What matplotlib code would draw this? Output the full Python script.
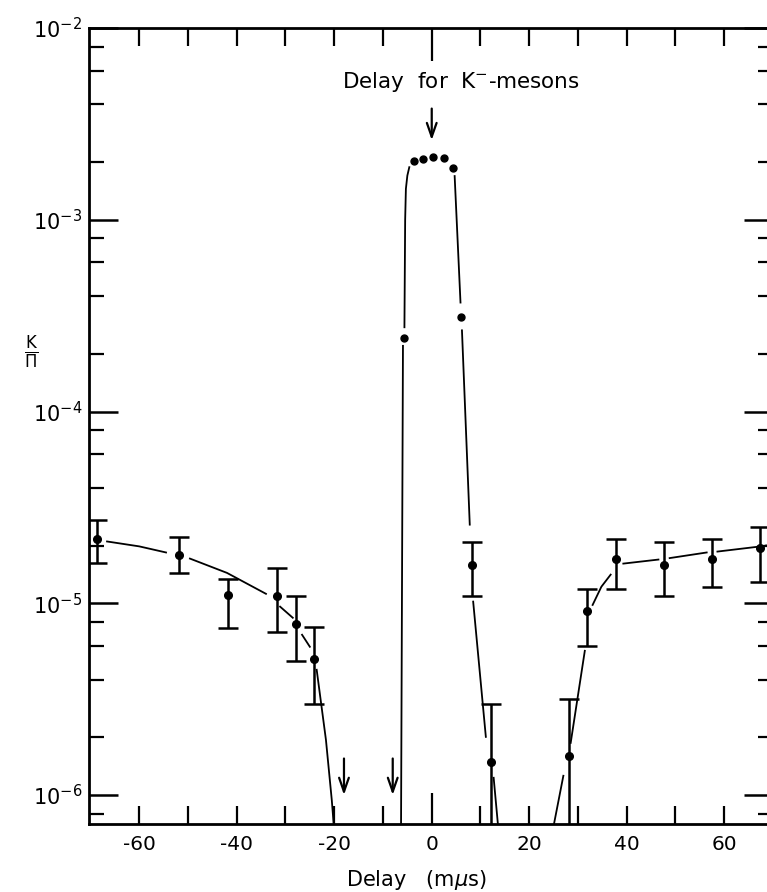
import numpy as np
import matplotlib
matplotlib.use("Agg")
import matplotlib.pyplot as plt
from matplotlib.ticker import LogLocator, FixedLocator, NullFormatter

nan = np.nan

# measured K/pi ratio with error bars
delay = [-68.6, -51.8, -41.8, -31.8, -27.9, -24.2, 8.2, 12.1, 28.1, 31.8, 37.7, 47.7, 57.4, 67.4]
ratio = [2.17e-5, 1.79e-5, 1.11e-5, 1.09e-5, 7.8e-6, 5.13e-6, 1.59e-5, 1.49e-6, 1.6e-6,
         9.1e-6, 1.71e-5, 1.59e-5, 1.71e-5, 1.93e-5]
err_hi = [2.73e-5, 2.22e-5, 1.34e-5, 1.53e-5, 1.09e-5, 7.5e-6, 2.09e-5, 3.0e-6, 3.17e-6,
          1.19e-5, 2.17e-5, 2.09e-5, 2.17e-5, 2.5e-5]
err_lo = [1.63e-5, 1.43e-5, 7.45e-6, 7.1e-6, 5.0e-6, 2.98e-6, 1.09e-5, 1e-7, 1e-7,
          6.0e-6, 1.19e-5, 1.09e-5, 1.22e-5, 1.29e-5]

# points in the K- peak (no error bars)
peak_delay = [-5.7, -3.7, -1.8, 0.2, 2.5, 4.3, 6.1]
peak_ratio = [2.43e-4, 2.02e-3, 2.07e-3, 2.12e-3, 2.09e-3, 1.86e-3, 3.10e-4]

# hand drawn curve, nan = pen lifted
fit_left_x = [-66.6, -60.0, -54.5, nan, -49.6, -42.0, -34.0, nan, -31.1, -28.5, nan,
              -26.6, -25.0, nan, -23.6, -21.7, -20.5, -20.0]
fit_left_y = [2.1e-5, 1.98e-5, 1.84e-5, nan, 1.71e-5, 1.44e-5, 1.12e-5, nan, 9.6e-6, 8.4e-6, nan,
              6.85e-6, 5.93e-6, nan, 4.5e-6, 1.94e-6, 9.4e-7, 6.5e-7]
fit_peak_x = [-6.3, -5.9, nan, -5.6, -5.45, -5.3, -5.0, -4.6, nan,
              4.7, 5.9, nan, 6.2, 7.8, nan, 8.5, 11.1, nan, 12.7, 13.7]
fit_peak_y = [6.5e-7, 2.2e-4, nan, 2.75e-4, 1.0e-3, 1.45e-3, 1.7e-3, 1.88e-3, nan,
              1.69e-3, 3.7e-4, nan, 2.65e-4, 2.57e-5, nan, 1.02e-5, 2.01e-6, nan, 1.23e-6, 6.5e-7]
fit_right_x = [24.8, 27.0, nan, 28.5, 31.4, nan, 33.0, 34.8, 36.7, nan, 39.3, 46.5, nan,
               48.8, 56.4, nan, 58.6, 66.8, nan, 68.5, 70.0]
fit_right_y = [6.5e-7, 1.26e-6, nan, 1.87e-6, 5.65e-6, nan, 9.8e-6, 1.22e-5, 1.41e-5, nan,
               1.61e-5, 1.69e-5, nan, 1.72e-5, 1.84e-5, nan, 1.86e-5, 1.97e-5, nan, 2.0e-5, 2.02e-5]

# arrows: (x, y_tail, y_head)
low_arrows_x = [-18.0, -8.0]
low_arrow_y = (1.55e-6, 1.0e-6)
k_arrow = (0.0, 3.8e-3, 2.6e-3)

x_ticks = list(range(-60, 70, 10))
x_ticklabels = ['-60', '', '-40', '', '-20', '', '0', '', '20', '', '40', '', '60']
y_ticks = [1e-6, 1e-5, 1e-4, 1e-3, 1e-2]
y_ticklabels = [r'$\mathregular{10^{-6}}$', r'$\mathregular{10^{-5}}$', r'$\mathregular{10^{-4}}$',
                r'$\mathregular{10^{-3}}$', r'$\mathregular{10^{-2}}$']

W, H = 767, 892
fig = plt.figure(figsize=(W / 100, H / 100), dpi=100)
ax = fig.add_axes([89 / W, (H - 824) / H, (773 - 89) / W, (824 - 28) / H])
ax.set_yscale('log')
ax.set_xlim(-70.3, 70)
ax.set_ylim(7.06e-7, 1e-2)

lw = 1.3
ax.plot(fit_left_x, fit_left_y, color='black', lw=lw)
ax.plot(fit_peak_x, fit_peak_y, color='black', lw=lw)
ax.plot(fit_right_x, fit_right_y, color='black', lw=lw)

yerr = [np.array(ratio) - np.array(err_lo), np.array(err_hi) - np.array(ratio)]
ax.errorbar(delay, ratio, yerr=yerr, fmt='o', color='black', ms=5.5,
            elinewidth=1.8, capsize=7, capthick=1.8)
ax.plot(peak_delay, peak_ratio, 'o', color='black', ms=5)

arrow_style = dict(arrowstyle='->,head_length=1.0,head_width=0.35', color='black', lw=1.6,
                   shrinkA=0, shrinkB=0)
for x in low_arrows_x:
    ax.annotate('', xy=(x, low_arrow_y[1]), xytext=(x, low_arrow_y[0]), arrowprops=arrow_style)
ax.annotate('', xy=(k_arrow[0], k_arrow[2]), xytext=(k_arrow[0], k_arrow[1]), arrowprops=arrow_style)

ax.text(5.9, 5.2e-3, 'Delay  for  K$^{-}$-mesons', ha='center', va='center', fontsize=15.5)

# axes and ticks
for s in ax.spines.values():
    s.set_linewidth(2)
ax.set_xticks(x_ticks)
ax.set_xticklabels(x_ticklabels)
ax.yaxis.set_major_locator(FixedLocator(y_ticks))
ax.set_yticklabels(y_ticklabels)
ax.yaxis.set_minor_locator(LogLocator(base=10, subs=[2, 4, 6, 8]))
ax.yaxis.set_minor_formatter(NullFormatter())
ax.tick_params(axis='x', which='major', direction='in', length=13, width=1.6,
               top=True, labelsize=14.5, pad=8)
ax.tick_params(axis='y', which='major', direction='in', length=21, width=1.8,
               right=True, labelsize=15, pad=5)
ax.tick_params(axis='y', which='minor', direction='in', length=11, width=1.6, right=True)
zero_tick = ax.xaxis.get_major_ticks()[x_ticks.index(0)]
zero_tick.tick1line.set_markersize(22)
zero_tick.tick2line.set_markersize(24)

fig.text(416 / W, 1 - 880 / H, 'Delay   (m$\\mu$s)', ha='center', va='center', fontsize=15)
fig.text(31 / W, 1 - 352 / H, r'$\frac{\mathregular{K}}{\mathregular{\Pi}}$', ha='center',
         va='center', fontsize=17)

fig.savefig('out.png', dpi=100)
